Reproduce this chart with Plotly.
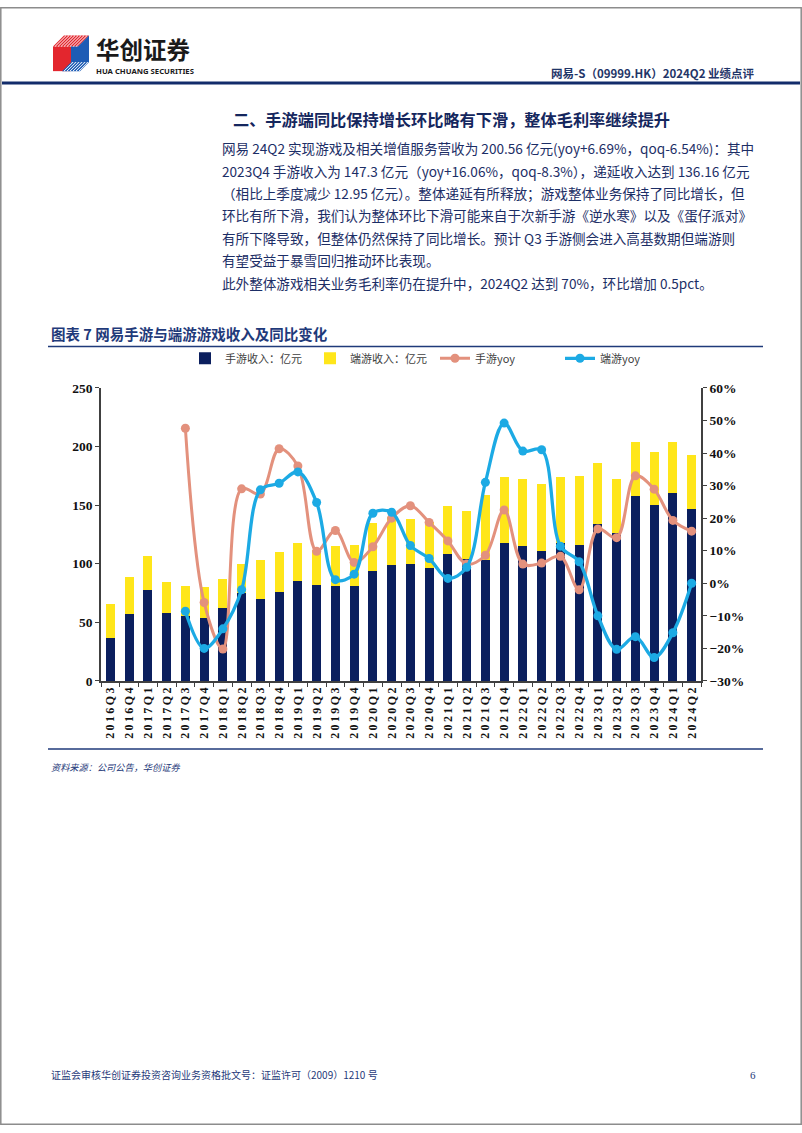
import plotly.graph_objects as go

W, H = 802, 1133

quarters = ["2016Q3", "2016Q4", "2017Q1", "2017Q2", "2017Q3", "2017Q4", "2018Q1", "2018Q2",
            "2018Q3", "2018Q4", "2019Q1", "2019Q2", "2019Q3", "2019Q4", "2020Q1", "2020Q2",
            "2020Q3", "2020Q4", "2021Q1", "2021Q2", "2021Q3", "2021Q4", "2022Q1", "2022Q2",
            "2022Q3", "2022Q4", "2023Q1", "2023Q2", "2023Q3", "2023Q4", "2024Q1", "2024Q2"]

mobile_rev = [37, 57, 78, 58, 55, 54, 62, 75, 70, 76, 85, 82, 81, 81, 94, 99,
              100, 96, 108, 104, 103, 118, 115, 111, 118, 116, 134, 126, 158, 150, 160, 147]

total_rev = [66, 89, 107, 84, 81, 80, 87, 100, 103, 110, 118, 112, 115, 116, 135, 140,
             138, 136, 149, 145, 159, 174, 172, 168, 174, 175, 186, 172, 204, 195, 204, 193]

pc_rev = [t - m for t, m in zip(total_rev, mobile_rev)]

mobile_yoy = [None, None, None, None, 47.6, -5.9, -20.2, 29.0, 27.4, 41.3, 36.0, 9.8, 16.2, 6.4,
              11.2, 20.0, 23.8, 18.7, 13.0, 5.9, 8.6, 22.5, 5.9, 6.2, 8.3, -2.0, 16.7, 14.0,
              33.0, 28.9, 19.3, 16.0]

pc_yoy = [None, None, None, None, -8.6, -20.0, -14.0, -2.0, 28.7, 30.7, 34.2, 24.8, 1.1, 2.8,
          21.5, 21.8, 11.6, 7.6, 1.5, 4.9, 31.0, 49.2, 40.6, 41.0, 11.4, 6.6, -10.0, -20.3,
          -16.4, -22.8, -15.2, 0.0]

NAVY = "#0B1F5E"
YELLOW = "#FFE61A"
PINK = "#E3917D"
CYAN = "#1CAAE4"
TXT = "#1C2E66"
SERIF = "Liberation Serif"
CJK = "Noto Sans CJK SC"


def X(x):
    return x / W


def Y(y):
    return 1 - y / H


fig = go.Figure()
fig.add_trace(go.Bar(x=quarters, y=mobile_rev, name="手游收入：亿元", marker_color=NAVY,
                     marker_line_width=0))
fig.add_trace(go.Bar(x=quarters, y=pc_rev, name="端游收入：亿元", marker_color=YELLOW,
                     marker_line_width=0))
fig.add_trace(go.Scatter(x=quarters, y=mobile_yoy, name="手游yoy", yaxis="y2", mode="lines+markers",
                         line=dict(color=PINK, width=3, shape="spline", smoothing=1.0),
                         marker=dict(color=PINK, size=9), connectgaps=False))
fig.add_trace(go.Scatter(x=quarters, y=pc_yoy, name="端游yoy", yaxis="y2", mode="lines+markers",
                         line=dict(color=CYAN, width=3.3, shape="spline", smoothing=1.0),
                         marker=dict(color=CYAN, size=9), connectgaps=False))

tick_text = ["\u2009".join(list(q)) for q in quarters]
axis_font = dict(family=SERIF, size=13.5, color="#111111", weight="bold")

fig.update_layout(
    width=W, height=H, autosize=False,
    margin=dict(l=0, r=0, t=0, b=0),
    paper_bgcolor="white", plot_bgcolor="white",
    barmode="stack", bargap=0.52,
    font=dict(family=CJK, color="#333333"),
    xaxis=dict(domain=[X(101), X(701)], type="category", categoryorder="array",
               categoryarray=quarters, tickmode="array", tickvals=quarters, ticktext=tick_text,
               tickangle=-90, tickson="boundaries", ticks="outside", ticklen=4,
               tickcolor="#404040", showline=True, linecolor="#404040", linewidth=1.5,
               showgrid=False, range=[-0.5, 31.5],
               tickfont=dict(family=SERIF, size=12, color="#111111", weight="bold")),
    yaxis=dict(domain=[Y(683), Y(386)], range=[0, 250], dtick=50, showgrid=False,
               showline=True, linecolor="#404040", linewidth=1.5, ticks="outside", ticklen=4,
               tickcolor="#404040", zeroline=False, tickfont=axis_font),
    yaxis2=dict(overlaying="y", side="right", anchor="x", range=[-30, 60], dtick=10,
                ticksuffix="%", showgrid=False, showline=True, linecolor="#404040",
                linewidth=1.5, ticks="outside", ticklen=4, tickcolor="#404040", zeroline=False,
                tickfont=axis_font),
    legend=dict(orientation="h", x=X(185), y=Y(356), xanchor="left", yanchor="middle",
                font=dict(family=CJK, size=11, color="#404040"), bgcolor="rgba(0,0,0,0)",
                traceorder="normal", itemwidth=30, entrywidth=80, entrywidthmode="pixels"),
    showlegend=True,
)

shapes = []
# page border
shapes.append(dict(type="rect", xref="paper", yref="paper", x0=X(0.8), x1=X(801.2), y0=Y(1132.2),
                   y1=Y(0.8), line=dict(color="#8C8C8C", width=1.5), layer="below"))
# header line
shapes.append(dict(type="line", xref="paper", yref="paper", x0=X(2), x1=X(800), y0=Y(77), y1=Y(77),
                   line=dict(color="#132C6B", width=3)))
# chart title underline and source line
shapes.append(dict(type="line", xref="paper", yref="paper", x0=X(48), x1=X(763), y0=Y(344), y1=Y(344),
                   line=dict(color="#1F3A7A", width=1.5)))
shapes.append(dict(type="line", xref="paper", yref="paper", x0=X(48), x1=X(763), y0=Y(752), y1=Y(752),
                   line=dict(color="#1F3A7A", width=1.5)))


def path(pts):
    s = "M " + " L ".join(f"{X(a):.5f},{Y(b):.5f}" for a, b in pts) + " Z"
    return s


# logo
shapes.append(dict(type="path", xref="paper", yref="paper",
                   path=path([(53, 40), (64, 29), (89, 29), (78, 40)]),
                   fillcolor="#E3262E", line=dict(width=0)))
shapes.append(dict(type="path", xref="paper", yref="paper",
                   path=path([(53, 40), (71, 40), (71, 65), (53, 65)]),
                   fillcolor="#E3262E", line=dict(width=0)))
shapes.append(dict(type="path", xref="paper", yref="paper",
                   path=path([(71, 40), (78, 40), (89, 29), (89, 56), (71, 56)]),
                   fillcolor="#1E5CB5", line=dict(width=0)))
shapes.append(dict(type="path", xref="paper", yref="paper",
                   path=path([(62, 65), (71, 56), (89, 56), (80, 65)]),
                   fillcolor="#1E5CB5", line=dict(width=0)))
for k in range(0, 24, 3):
    shapes.append(dict(type="line", xref="paper", yref="paper",
                       x0=X(55 + k), y0=Y(40), x1=X(66 + k), y1=Y(29),
                       line=dict(color="white", width=1)))
for k in range(0, 20, 3):
    shapes.append(dict(type="line", xref="paper", yref="paper",
                       x0=X(64 + k), y0=Y(65), x1=X(73 + k), y1=Y(56),
                       line=dict(color="white", width=1)))

annotations = []


def txt(x, y, s, size, color=TXT, bold=False, xanchor="left", family=CJK, italic=False):
    f = dict(family=family, size=size, color=color)
    if bold:
        f["weight"] = "bold"
    if italic:
        f["style"] = "italic"
    annotations.append(dict(xref="paper", yref="paper", x=X(x), y=Y(y), text=s, showarrow=False,
                            xanchor=xanchor, yanchor="middle", font=f))


txt(94, 43, "华创证券", 23.5, color="#1A1A1A", bold=True)
txt(94, 64.5, "HUA CHUANG SECURITIES", 7.7, color="#1A1A1A", bold=True, family="Noto Sans")
txt(757, 67, "网易-S（09999.HK）2024Q2 业绩点评", 11.5, color="#1F3568", bold=True, xanchor="right")

txt(231, 113, "二、手游端同比保持增长环比略有下滑，整体毛利率继续提升", 16.2, color="#15275E", bold=True)

para = [
    "网易 24Q2 实现游戏及相关增值服务营收为 200.56 亿元(yoy+6.69%，qoq-6.54%)：其中",
    "2023Q4 手游收入为 147.3 亿元（yoy+16.06%，qoq-8.3%），递延收入达到 136.16 亿元",
    "（相比上季度减少 12.95 亿元）。整体递延有所释放；游戏整体业务保持了同比增长，但",
    "环比有所下滑，我们认为整体环比下滑可能来自于次新手游《逆水寒》以及《蛋仔派对》",
    "有所下降导致，但整体仍然保持了同比增长。预计 Q3 手游侧会进入高基数期但端游则",
    "有望受益于暴雪回归推动环比表现。",
]
for i, line in enumerate(para):
    txt(220, 143 + i * 22.7, line, 13.6)
txt(220, 280, "此外整体游戏相关业务毛利率仍在提升中，2024Q2 达到 70%，环比增加 0.5pct。", 13.6)

txt(49, 331, "图表 7 网易手游与端游游戏收入及同比变化", 14.5, color="#1F3A7A", bold=True)
txt(49, 770, "资料来源：公司公告，华创证券", 9.2, color="#1F3A7A", italic=True)
txt(49, 1082, "证监会审核华创证券投资咨询业务资格批文号：证监许可（2009）1210 号", 10, color="#1F3A7A")
txt(758, 1082, "6", 11, color="#1F3A7A", family=SERIF, xanchor="right")

fig.update_layout(shapes=shapes, annotations=annotations)

fig.write_html("out.html", config={"displayModeBar": False},
               post_script="document.body.style.margin='0';document.body.style.overflow='hidden';")
